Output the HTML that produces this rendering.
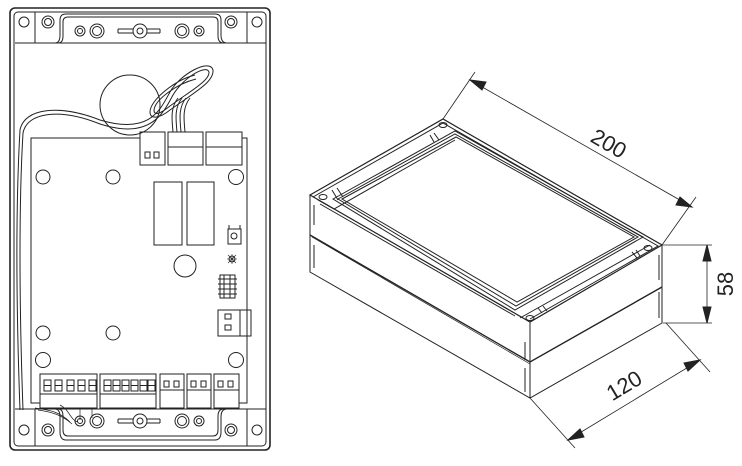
<!DOCTYPE html>
<html><head><meta charset="utf-8"><style>html,body{margin:0;padding:0;background:#fff}svg{display:block}svg path,svg circle,svg rect,svg ellipse{fill:none}svg path.f{fill:#222}svg .w{fill:#fff}</style></head>
<body>
<svg width="742" height="466" viewBox="0 0 742 466" xmlns="http://www.w3.org/2000/svg" fill="none" stroke="#222" stroke-width="1">
<!-- LEFT enclosure -->
<rect x="10" y="8" width="260" height="442" rx="5" stroke-width="1.6"/>
<rect x="14" y="12" width="252" height="434" rx="4"/>
<path d="M15 43 H266 M15 409 H266"/>
<path d="M35 12 V43 M247 12 V43 M35 409 V446 M247 409 V446"/>
<path d="M55 43 Q60 43 60 35 V20 Q60 14 66 14 H215 Q221 14 221 20 V35 Q221 43 227 43"/>
<path d="M58 43 Q63 43 63 36 V22 Q63 17 68 17 H213 Q218 17 218 22 V36 Q218 43 224 43"/>
<path d="M55 409 Q60 409 60 417 V432 Q60 440 66 440 H215 Q221 440 221 432 V417 Q221 409 227 409"/>
<path d="M58 409 Q63 409 63 416 V430 Q63 436 68 436 H213 Q218 436 218 430 V416 Q218 409 224 409"/>
<g>
<circle cx="24" cy="22" r="5"/><circle cx="48" cy="22" r="6"/><circle cx="48" cy="22" r="3.5"/>
<circle cx="80" cy="31" r="5"/><circle cx="80" cy="31" r="2.5"/><circle cx="97" cy="31" r="7"/><circle cx="97" cy="31" r="4.5"/>
<path d="M118 29 H133 M118 33 H133 M118 29 V33 M147 29 H160 M147 33 H160 M160 29 V33"/><circle cx="140" cy="31" r="7"/><circle cx="140" cy="31" r="3"/>
<circle cx="182" cy="31" r="7"/><circle cx="182" cy="31" r="4.5"/><circle cx="199" cy="31" r="5"/><circle cx="199" cy="31" r="2.5"/>
<circle cx="231" cy="22" r="6"/><circle cx="231" cy="22" r="3.5"/><circle cx="257" cy="22" r="5"/>
<circle cx="24" cy="430" r="5"/><circle cx="48" cy="430" r="6"/><circle cx="48" cy="430" r="3.5"/>
<circle cx="80" cy="421" r="5"/><circle cx="80" cy="421" r="2.5"/><circle cx="97" cy="421" r="7"/><circle cx="97" cy="421" r="4.5"/>
<path d="M118 419 H133 M118 423 H133 M118 419 V423 M147 419 H160 M147 423 H160 M160 419 V423"/><circle cx="140" cy="421" r="7"/><circle cx="140" cy="421" r="3"/>
<circle cx="182" cy="421" r="7"/><circle cx="182" cy="421" r="4.5"/><circle cx="199" cy="421" r="5"/><circle cx="199" cy="421" r="2.5"/>
<circle cx="231" cy="430" r="6"/><circle cx="231" cy="430" r="3.5"/><circle cx="257" cy="430" r="5"/>
</g>
<!-- PCB -->
<path d="M140 138 H31 V403 H40 M239 403 H247 V138 H242"/>
<circle class="w" cx="130" cy="105" r="30" fill="#fff"/>
<rect x="140" y="132" width="25" height="33"/><rect x="145" y="152" width="5" height="6"/><rect x="154" y="152" width="5" height="6"/>
<rect x="168" y="132" width="35" height="33"/><path d="M168 147 H203"/>
<rect x="206" y="132" width="36" height="33"/><path d="M206 147 H242"/>
<path d="M173 132 C172 120 170 108 178 98 M177 132 C176 120 174 108 182 98 M181 132 C180 120 178 108 186 98 M185 132 C184 120 182 108 190 98"/>
<path d="M20 410 C16 300 16 200 20 130 C24 108 60 104 100 120 C150 135 160 110 170 92 C180 74 210 58 213 70 C214 82 195 92 170 110 C160 118 150 120 150 112 C150 100 175 80 195 75"/>
<path d="M23 410 C19 300 19 200 23 133 C27 112 60 108 100 124 C150 140 163 114 173 95 C183 78 206 64 209 72 C210 80 192 90 170 106 C160 114 154 116 154 110 C155 100 176 84 196 79"/>
<circle cx="43" cy="177" r="7"/><circle cx="113" cy="177" r="7"/><circle cx="236" cy="177" r="7.5"/>
<rect x="154" y="182" width="28" height="63"/><rect x="187" y="182" width="27" height="63"/>
<rect x="228" y="229" width="13" height="15"/><circle cx="234" cy="236" r="3"/><path d="M229 229 V225 M240 229 V225"/>
<circle cx="232" cy="259" r="3"/><path d="M228 255 L236 263 M236 255 L228 263 M232 254 V264 M227 259 H237" stroke-width="0.6"/>
<circle class="w" cx="185" cy="266" r="11" fill="#fff"/>
<rect x="220" y="275" width="15" height="23"/><path d="M218 279 H237 M218 284 H237 M218 289 H237 M218 294 H237 M224 275 V298 M230 275 V298"/>
<rect x="218" y="310" width="22" height="26"/><rect x="240" y="310" width="11" height="26"/><rect x="225" y="314" width="6" height="5"/><rect x="225" y="325" width="6" height="5"/>
<circle cx="43" cy="333" r="7"/><circle cx="113" cy="333" r="7"/><circle cx="43" cy="360" r="7.5"/><circle cx="236" cy="360" r="7.5"/>
<rect x="40" y="374" width="57" height="34"/><path d="M40 394 H97"/>
<rect x="100" y="374" width="56" height="34"/><path d="M100 394 H156"/>
<g>
<rect x="44" y="380" width="7" height="11"/><rect x="55" y="380" width="7" height="11"/><rect x="67" y="380" width="7" height="11"/><rect x="78" y="380" width="7" height="11"/><rect x="89" y="380" width="7" height="11"/>
<rect x="104" y="380" width="7" height="11"/><rect x="113" y="380" width="7" height="11"/><rect x="122" y="380" width="7" height="11"/><rect x="131" y="380" width="7" height="11"/><rect x="140" y="380" width="7" height="11"/><rect x="148" y="380" width="7" height="11"/>
<path d="M44 385.5 H51 M55 385.5 H62 M67 385.5 H74 M78 385.5 H85 M89 385.5 H96 M104 385.5 H111 M113 385.5 H120 M122 385.5 H129 M131 385.5 H138 M140 385.5 H147 M148 385.5 H155"/>
</g>
<rect x="160" y="374" width="24" height="34"/><path d="M160 390 H184"/><rect x="164" y="381" width="5" height="6"/><rect x="174" y="381" width="5" height="6"/>
<rect x="187" y="374" width="24" height="34"/><path d="M187 390 H211"/><rect x="191" y="381" width="5" height="6"/><rect x="201" y="381" width="5" height="6"/>
<rect x="214" y="374" width="25" height="34"/><path d="M214 390 H239"/><rect x="218" y="381" width="5" height="6"/><rect x="228" y="381" width="5" height="6"/>
<path d="M35 408 C50 410 60 412 70 422 M38 410 C52 412 62 415 72 424 M60 405 C70 410 70 420 78 422 M80 408 V420 M92 408 V418" stroke-width="0.7"/>
<!-- RIGHT box -->
<path d="M310 195 L443 119 L662 245 L530 322 Z" stroke-width="1.2"/>
<path d="M313 197 L443 123 L658 246 L530 319"/>
<path d="M310 195 V272 L530 398 L662 323 V245"/>
<path d="M530 322 V398"/>
<path d="M310 235 L530 362 L662 287" stroke-width="1.4"/>
<path d="M312 237 L530 364" stroke-width="0.7"/>
<path d="M314 205 V225 M314 245 V268 M525 342 V360 M530 342 V360 M525 368 V392 M530 368 V392 M659 255 V280 M659 292 V318"/>
<path d="M333 199 L455 131 L643 237 L515 310 Z"/>
<path d="M338 199 L455 134 L638 237 L516 306 Z"/>
<path d="M342 199 L456 137 L634 237 L517 302 Z"/>
<path d="M318 200 L334 209 L455 140 M320 204 L515 316 M650 245 L520 318"/>
<ellipse cx="323" cy="197" rx="4" ry="2.5"/><ellipse cx="443" cy="125" rx="4" ry="2.5"/><ellipse cx="648" cy="248" rx="4" ry="2.5"/><ellipse cx="530" cy="318" rx="4" ry="2.5"/>
<path d="M332 190 L338 200 M337 188 L343 197 M430 135 L434 142 M434 133 L439 140 M632 252 L637 258 M636 250 L640 256 M538 308 L542 313 M543 306 L547 311"/>
<!-- dimension 200 -->
<path d="M443 119 L475 72 M662 245 L696 197 M470 80 L692 207" stroke-width="0.8"/>
<path class="f" d="M470 80 L486 82 L482 90 Z M692 207 L676 205 L680 197 Z"/>
<text x="605" y="150" transform="rotate(30 605 150)" font-family="Liberation Sans, sans-serif" font-size="22" fill="#222" stroke="none" text-anchor="middle">200</text>
<!-- dimension 58 -->
<path d="M663 245 H712 M663 323 H712 M707 245 V323" stroke-width="0.8"/>
<path class="f" d="M707 245 L703 261 L711 261 Z M707 323 L703 307 L711 307 Z"/>
<text x="733" y="284" transform="rotate(-90 733 284)" font-family="Liberation Sans, sans-serif" font-size="22" fill="#222" stroke="none" text-anchor="middle">58</text>
<!-- dimension 120 -->
<path d="M530 398 L575 448 M666 323 L710 372 M568 440 L700 360" stroke-width="0.8"/>
<path class="f" d="M568 440 L580 429 L584 437 Z M700 360 L688 371 L684 363 Z"/>
<text x="628" y="392" transform="rotate(-31 628 392)" font-family="Liberation Sans, sans-serif" font-size="22" fill="#222" stroke="none" text-anchor="middle">120</text>
</svg>
</body></html>
